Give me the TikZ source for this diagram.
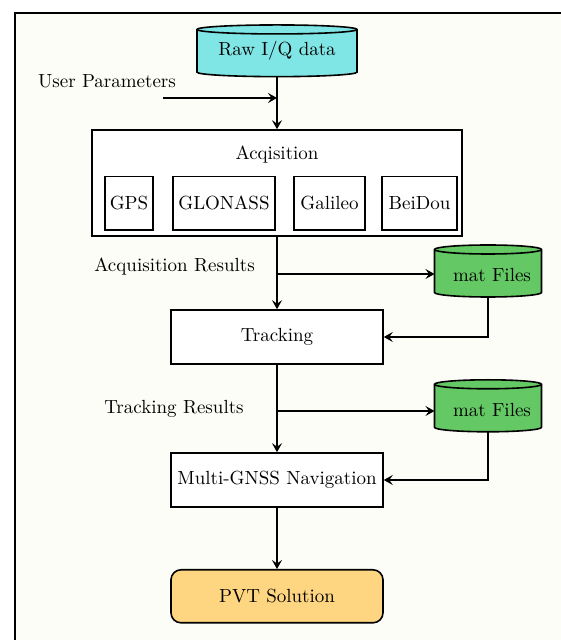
\documentclass[tikz,border=0pt]{standalone}
\usetikzlibrary{arrows.meta,calc}
\definecolor{bgcream}{RGB}{253,253,247}
\definecolor{cyanfill}{RGB}{128,229,229}
\definecolor{greenfill}{RGB}{100,200,100}
\definecolor{pvtfill}{RGB}{254,213,128}
\pgfdeclarelayer{bglayer}
\pgfdeclarelayer{cyllayer}
\pgfsetlayers{bglayer,cyllayer,main}
\newcommand\lbl[1]{\scalebox{1.9}{\fontsize{10}{12}\selectfont #1}}
\newcommand\drawcyl[3]{%
  \draw[boxline, fill=#2] ([yshift=-4.5pt]#1.north west) -- ([yshift=4.5pt]#1.south west)
    arc[start angle=180,end angle=360,x radius=#3,y radius=4.5pt]
    -- ([yshift=-4.5pt]#1.north east)
    arc[start angle=0,end angle=180,x radius=#3,y radius=4.5pt] -- cycle;
  \draw[boxline] ([yshift=-4.5pt]#1.north west)
    arc[start angle=180,end angle=360,x radius=#3,y radius=4.5pt];
}
\tikzset{
  every node/.style={inner sep=0pt},
  boxline/.style={line width=1.6pt, draw=black},
  box/.style={boxline, fill=white, minimum width=212pt, minimum height=54pt},
  subbox/.style={boxline, fill=white, minimum height=53.3pt},
  cylnode/.style={outer sep=0pt, minimum height=51.7pt},
  arr/.style={line width=1.6pt, -{Stealth[length=9pt,width=10pt,inset=3.5pt]}},
  frameline/.style={line width=2.2pt, draw=black}
}
\begin{document}
\begin{tikzpicture}[x=1pt,y=1pt]
\useasboundingbox (0,0) rectangle (561,640);
\begin{pgfonlayer}{bglayer}
  \fill[bgcream] (15,-20) rectangle (600,626.7);
  \draw[frameline] (15,-20) -- (15,626.7) -- (600,626.7);
\end{pgfonlayer}

% Raw data cylinder
\node[cylnode, minimum width=160pt] (raw) at (277,589.2) {\lbl{Raw I/Q data}};
\begin{pgfonlayer}{cyllayer}\drawcyl{raw}{cyanfill}{80pt}\end{pgfonlayer}

% User parameters
\node (up) at (107,558.3) {\lbl{User Parameters}};
\coordinate (upstart) at (163,542);

% Acquisition
\node[boxline, fill=white, minimum width=370pt, minimum height=106pt] (acq) at (277,457) {};
\node (acqtitle) at (277,485) {\lbl{Acqisition}};
\node[subbox, minimum width=48pt] (gps) at (129,436.7) {\lbl{GPS}};
\node[subbox, minimum width=102pt] (glo) at (224,436.7) {\lbl{GLONASS}};
\node[subbox, minimum width=71pt] (gal) at (329.5,436.7) {\lbl{Galileo}};
\node[subbox, minimum width=75pt] (bds) at (419.5,436.7) {\lbl{BeiDou}};

% Tracking
\node[box] (trk) at (277,303) {\lbl{Tracking}};
\node (acqres) at (174.5,373.3) {\lbl{Acquisition Results}};
\coordinate (b1) at (277,366);
\node[cylnode, minimum width=107pt, minimum height=52pt] (mat1) at (488,369) {};
\begin{pgfonlayer}{cyllayer}\drawcyl{mat1}{greenfill}{53.5pt}\end{pgfonlayer}
\node (mat1txt) at (492,365) {\lbl{mat Files}};

% Navigation
\node[box] (nav) at (277,160) {\lbl{Multi-GNSS Navigation}};
\node (trkres) at (174,231) {\lbl{Tracking Results}};
\coordinate (b2) at (277,229);
\node[cylnode, minimum width=107pt, minimum height=52pt] (mat2) at (488,234.2) {};
\begin{pgfonlayer}{cyllayer}\drawcyl{mat2}{greenfill}{53.5pt}\end{pgfonlayer}
\node (mat2txt) at (492,230) {\lbl{mat Files}};

% PVT
\node[boxline, fill=pvtfill, rounded corners=10pt, minimum width=212pt, minimum height=53pt] (pvt) at (277,43.7) {\lbl{PVT Solution}};

% connectors
\draw[arr] (raw.south) -- (acq.north);
\draw[arr] (upstart) -- (upstart -| raw.south);
\draw[arr] (acq.south) -- (trk.north);
\draw[arr] (b1) -- (b1 -| mat1.west);
\draw[arr] (mat1.south) |- (trk.east);
\draw[arr] (trk.south) -- (nav.north);
\draw[arr] (b2) -- (b2 -| mat2.west);
\draw[arr] (mat2.south) |- (nav.east);
\draw[arr] (nav.south) -- (pvt.north);
\end{tikzpicture}
\end{document}
